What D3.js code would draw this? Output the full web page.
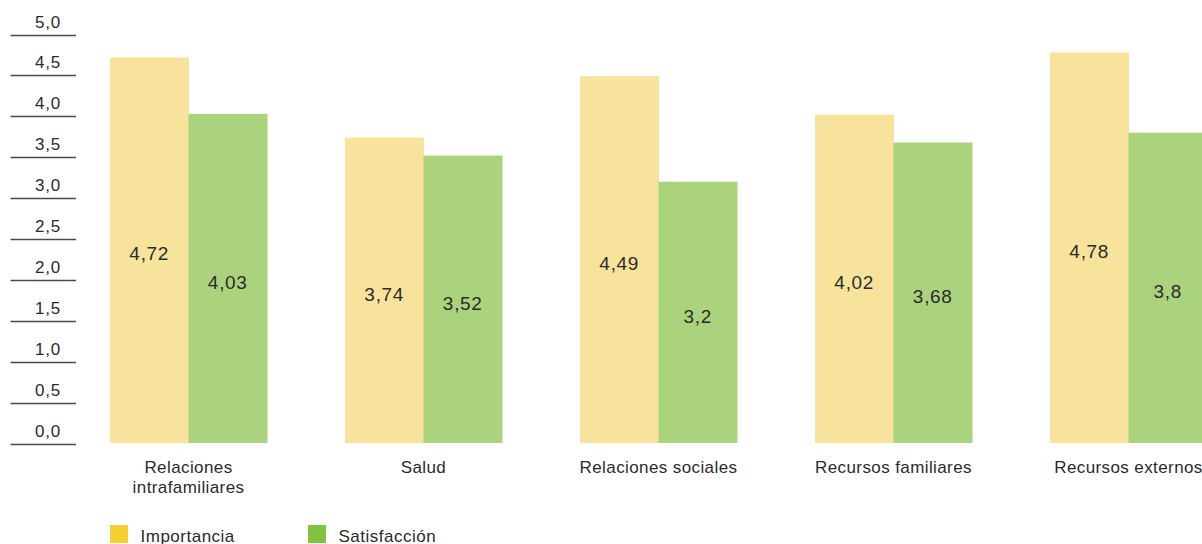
<!DOCTYPE html>
<html>
<head>
<meta charset="utf-8">
<script src="https://cdn.jsdelivr.net/npm/d3@7"></script>
<style>
html,body{margin:0;padding:0;background:#fff;overflow:hidden;}
svg{display:block;font-family:"Liberation Sans",Arial,Helvetica,sans-serif;}
</style>
</head>
<body>
<svg id="chart" width="1202" height="544"></svg>
<script>
const categories = [["Relaciones","intrafamiliares"],["Salud"],["Relaciones sociales"],["Recursos familiares"],["Recursos externos"]];
const importancia = [4.72, 3.74, 4.49, 4.02, 4.78];
const satisfaccion = [4.03, 3.52, 3.2, 3.68, 3.8];
const importanciaLabels = ["4,72","3,74","4,49","4,02","4,78"];
const satisfaccionLabels = ["4,03","3,52","3,2","3,68","3,8"];
const yTicks = [0,0.5,1,1.5,2,2.5,3,3.5,4,4.5,5];
const seriesNames = ["Importancia","Satisfacción"];

const barColors = ["#f7e39c","#abd37e"];
const legendColors = ["#f4cf30","#80c342"];
const textColor = "#2b2b2b";

const svg = d3.select("#chart");
const keys = categories.map(c => c.join(" "));

const x = d3.scaleBand().domain(keys).range([110, 1207]).paddingInner(78/235).paddingOuter(0);
const xs = d3.scaleBand().domain([0,1]).range([0, x.bandwidth()]).padding(0);
const y = d3.scaleLinear().domain([0,5]).range([443.5, 34.5]);

// y axis: tick lines with labels above
const ax = svg.append("g");
ax.selectAll("line").data(yTicks).join("line")
  .attr("x1", 10.5).attr("x2", 76)
  .attr("y1", d => Math.round(y(d)) + 0.5).attr("y2", d => Math.round(y(d)) + 0.5)
  .attr("stroke", "#4a4a4a").attr("stroke-width", 1.3);
ax.selectAll("text").data(yTicks).join("text")
  .attr("x", 61).attr("y", d => y(d) - 7)
  .attr("text-anchor", "end")
  .attr("font-size", 17).attr("letter-spacing", 0.8)
  .attr("fill", textColor)
  .text(d => d3.format(".1f")(d).replace(".", ","));

// bars
const data = keys.map((k, i) => ({k, vals: [importancia[i], satisfaccion[i]], labs: [importanciaLabels[i], satisfaccionLabels[i]]}));
const g = svg.append("g");
const groups = g.selectAll("g").data(data).join("g")
  .attr("transform", d => `translate(${x(d.k)},0)`);
groups.selectAll("rect").data(d => d.vals.map((v, j) => ({v, j}))).join("rect")
  .attr("x", d => xs(d.j)).attr("width", xs.bandwidth() + 0.5)
  .attr("y", d => y(d.v)).attr("height", d => y(0) - y(d.v) - 0.5)
  .attr("fill", d => barColors[d.j]);
groups.selectAll("text").data(d => d.vals.map((v, j) => ({v, j, lab: d.labs[j]}))).join("text")
  .attr("x", d => xs(d.j) + xs.bandwidth() / 2)
  .attr("y", d => (y(d.v) + y(0)) / 2 + 10)
  .attr("text-anchor", "middle")
  .attr("font-size", 19).attr("letter-spacing", 0.7)
  .attr("fill", textColor)
  .text(d => d.lab);

// category labels
const cl = svg.append("g");
categories.forEach((lines, i) => {
  const t = cl.append("text")
    .attr("x", x(keys[i]) + x.bandwidth() / 2)
    .attr("y", 473)
    .attr("text-anchor", "middle")
    .attr("font-size", 17).attr("letter-spacing", 0.4)
    .attr("fill", textColor);
  lines.forEach((ln, j) => {
    t.append("tspan").attr("x", x(keys[i]) + x.bandwidth() / 2).attr("dy", j === 0 ? 0 : 20).text(ln);
  });
});

// legend
const legX = [110, 308];
const lg = svg.append("g");
seriesNames.forEach((n, i) => {
  lg.append("rect").attr("x", legX[i]).attr("y", 525).attr("width", 18).attr("height", 18).attr("fill", legendColors[i]);
  lg.append("text").attr("x", legX[i] + 30.5).attr("y", 542)
    .attr("font-size", 17).attr("letter-spacing", 0.5)
    .attr("fill", textColor).text(n);
});
</script>
</body>
</html>
